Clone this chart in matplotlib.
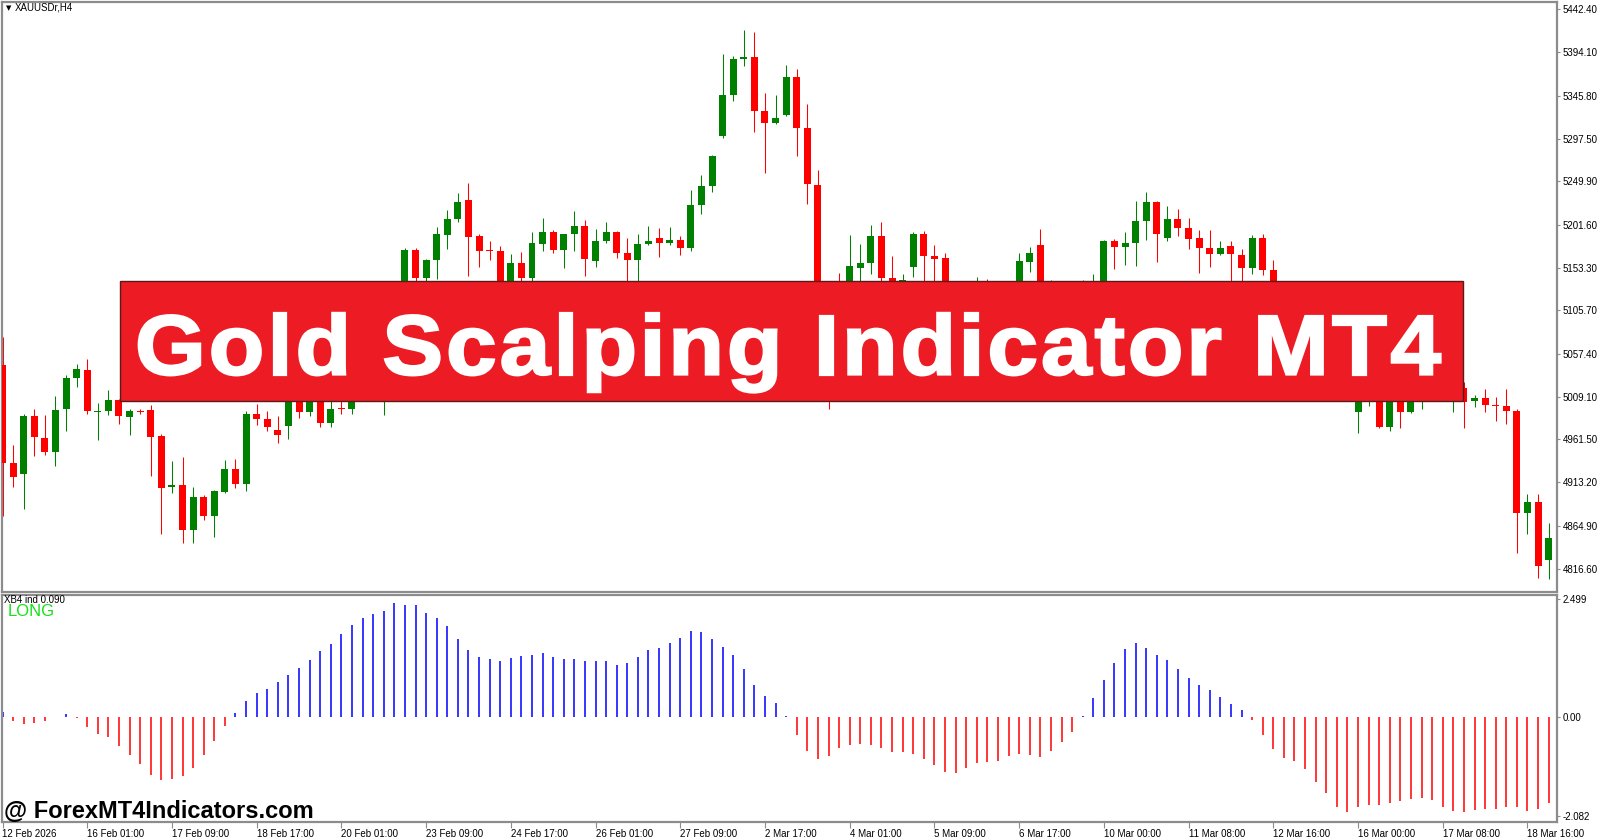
import matplotlib
matplotlib.use("Agg")
import matplotlib.pyplot as plt
from matplotlib.patches import Rectangle, PathPatch
from matplotlib.textpath import TextPath, TextToPath
from matplotlib.font_manager import FontProperties
from matplotlib.transforms import Affine2D

# ---- data ----
opens = [5044.2, 4935.3, 4923.0, 4987.0, 4963.4, 4947.7, 4994.8, 5029.6, 5038.6, 4991.5,
         4992.6, 5004.9, 4985.9, 4993.0, 4993.7, 4965.6, 4908.4, 4910.7, 4860.1, 4897.2,
         4875.9, 4902.8, 4928.6, 4911.8, 4989.2, 4984.7, 4972.4, 4976.0, 5018.0, 4992.0,
         5028.0, 4980.0, 4997.0, 4995.0, 5050.0, 5085.0, 5070.0, 5110.0, 5125.0, 5173.3,
         5141.8, 5162.0, 5190.1, 5208.1, 5229.4, 5189.0, 5172.6, 5172.1, 5128.0, 5158.7,
         5141.8, 5180.0, 5193.5, 5173.3, 5191.2, 5200.2, 5160.9, 5183.4, 5193.5, 5169.9,
         5162.0, 5180.0, 5186.7, 5181.1, 5184.5, 5175.5, 5223.8, 5245.1, 5300.1, 5346.1,
         5386.5, 5388.7, 5328.1, 5314.7, 5323.7, 5366.3, 5309.1, 5246.2, 5125.0, 5125.0,
         5112.0, 5153.1, 5158.7, 5189.0, 5141.8, 5132.0, 5154.2, 5191.2, 5166.5, 5164.3,
         5120.0, 5095.0, 5105.0, 5125.0, 5110.0, 5120.0, 5128.0, 5159.8, 5178.9, 5118.0,
         5130.0, 5120.0, 5128.0, 5134.0, 5135.0, 5183.4, 5176.6, 5181.1, 5205.5, 5226.4,
         5186.7, 5207.3, 5198.3, 5186.7, 5175.9, 5168.4, 5177.4, 5167.7, 5152.7, 5186.4,
         5150.5, 5110.0, 5095.0, 5080.0, 5065.0, 5040.0, 5025.0, 5015.0, 4991.7, 5010.0,
         5015.0, 4975.5, 5010.0, 4992.3, 5005.0, 5012.0, 5018.0, 5006.0, 5018.5, 5003.9,
         5007.3, 4999.8, 4998.7, 4993.4, 4878.7, 4891.7, 4826.5]
highs = [5075.6, 4955.5, 4989.2, 4994.8, 4988.1, 5009.4, 5033.0, 5045.3, 5050.9, 5001.6,
         5016.1, 5006.0, 4994.8, 4994.8, 4999.3, 4967.9, 4937.6, 4942.1, 4908.4, 4899.4,
         4905.0, 4938.7, 4939.8, 4992.6, 5000.4, 4992.6, 4987.0, 5025.0, 5030.0, 5035.0,
         5040.0, 5005.0, 5005.0, 5060.0, 5095.0, 5110.0, 5120.0, 5135.0, 5175.5, 5175.0,
         5163.0, 5199.1, 5218.2, 5237.2, 5248.5, 5191.2, 5183.4, 5177.8, 5168.8, 5171.0,
         5193.5, 5209.2, 5195.7, 5191.5, 5217.0, 5206.9, 5196.8, 5204.7, 5194.6, 5186.7,
         5191.2, 5200.2, 5198.0, 5199.1, 5189.0, 5240.6, 5257.4, 5279.9, 5392.1, 5389.9,
         5419.1, 5416.8, 5348.3, 5346.1, 5379.8, 5375.3, 5336.0, 5263.1, 5132.0, 5147.5,
         5190.1, 5180.0, 5201.3, 5204.7, 5166.5, 5146.3, 5193.5, 5194.6, 5178.9, 5169.9,
         5128.0, 5115.0, 5143.0, 5140.7, 5130.0, 5135.0, 5169.9, 5176.6, 5196.8, 5139.6,
         5138.0, 5135.0, 5140.0, 5146.7, 5184.5, 5185.9, 5193.5, 5227.9, 5237.6, 5227.5,
         5222.3, 5218.9, 5209.2, 5195.4, 5195.4, 5183.0, 5183.0, 5174.1, 5189.8, 5191.2,
         5161.7, 5125.0, 5110.0, 5100.0, 5080.0, 5060.0, 5040.0, 5030.0, 5025.0, 5030.0,
         5025.0, 5020.0, 5018.0, 5015.0, 5020.0, 5025.0, 5030.0, 5022.0, 5025.0, 5011.0,
         5017.4, 5008.4, 5017.4, 4995.0, 4900.3, 4900.3, 4868.1]
lows = [4875.9, 4908.4, 4883.7, 4943.2, 4944.3, 4932.0, 4971.3, 5019.5, 4989.2, 4961.2,
        4988.1, 4979.1, 4966.8, 4989.2, 4920.8, 4855.7, 4901.7, 4845.6, 4845.6, 4871.4,
        4852.3, 4901.7, 4907.3, 4903.9, 4978.0, 4971.3, 4957.8, 4962.0, 4985.0, 4988.0,
        4975.0, 4975.0, 4990.0, 4990.0, 5035.0, 5060.0, 4989.0, 5095.0, 5115.0, 5130.0,
        5128.0, 5140.7, 5174.4, 5204.7, 5144.1, 5154.2, 5162.0, 5120.0, 5118.0, 5137.4,
        5137.4, 5172.1, 5169.9, 5153.1, 5172.1, 5144.1, 5154.2, 5181.1, 5164.3, 5137.4,
        5137.4, 5178.9, 5165.4, 5178.9, 5167.7, 5172.1, 5213.7, 5238.4, 5298.0, 5339.4,
        5378.6, 5304.6, 5259.7, 5313.6, 5322.5, 5278.8, 5224.9, 5110.0, 4995.0, 5095.0,
        5100.0, 5130.0, 5146.3, 5128.0, 5110.0, 5125.0, 5143.0, 5130.0, 5130.0, 5100.0,
        5080.0, 5070.0, 5090.0, 5100.0, 5095.0, 5105.0, 5120.0, 5148.6, 5110.0, 5105.0,
        5110.0, 5100.0, 5115.0, 5125.0, 5130.0, 5152.3, 5156.8, 5155.0, 5184.2, 5159.8,
        5183.0, 5189.0, 5174.1, 5147.8, 5154.2, 5168.0, 5137.4, 5135.0, 5146.0, 5144.9,
        5100.0, 5085.0, 5070.0, 5055.0, 5030.0, 5015.0, 5005.0, 5004.0, 4968.8, 4999.0,
        4973.7, 4970.7, 4974.4, 4990.5, 4995.0, 5005.0, 5006.0, 4992.3, 4973.7, 4997.2,
        4991.6, 4982.2, 4978.2, 4834.6, 4856.1, 4806.8, 4805.2]
closes = [4935.3, 4919.6, 4987.0, 4964.5, 4947.7, 4993.7, 5029.6, 5039.7, 4992.6, 4992.6,
          5004.9, 4987.0, 4992.6, 4992.0, 4964.5, 4907.3, 4910.7, 4860.1, 4897.2, 4875.9,
          4903.9, 4928.6, 4911.8, 4989.2, 4984.7, 4975.7, 4966.8, 5018.0, 4992.0, 5028.0,
          4980.0, 4994.8, 4994.8, 5050.0, 5085.0, 5070.0, 5110.0, 5125.0, 5173.3, 5141.8,
          5162.0, 5191.2, 5208.1, 5227.1, 5187.9, 5172.1, 5172.0, 5128.0, 5158.7, 5141.8,
          5181.1, 5193.5, 5173.3, 5191.2, 5200.2, 5163.2, 5183.4, 5193.5, 5169.9, 5162.0,
          5180.0, 5183.4, 5181.1, 5184.5, 5175.5, 5223.8, 5245.1, 5278.8, 5346.1, 5386.5,
          5388.7, 5328.1, 5314.7, 5320.3, 5366.3, 5309.1, 5247.3, 5125.0, 5120.0, 5110.0,
          5155.3, 5158.7, 5189.0, 5141.8, 5125.0, 5139.6, 5191.2, 5166.5, 5163.2, 5120.0,
          5095.0, 5105.0, 5125.0, 5110.0, 5120.0, 5130.0, 5160.9, 5169.9, 5120.0, 5130.0,
          5120.0, 5128.0, 5135.0, 5138.5, 5183.4, 5176.6, 5181.1, 5205.5, 5226.4, 5190.9,
          5207.3, 5198.3, 5185.9, 5175.9, 5168.4, 5175.2, 5168.4, 5152.7, 5186.4, 5150.5,
          5110.0, 5095.0, 5080.0, 5065.0, 5040.0, 5025.0, 5015.0, 5010.0, 5015.0, 5020.0,
          4975.5, 5010.0, 4992.3, 5008.0, 5012.0, 5018.0, 5012.0, 5015.0, 5003.5, 5007.3,
          4999.8, 4998.3, 4993.1, 4878.7, 4891.7, 4819.7, 4851.1]

xb4 = [0.11, -0.07, -0.14, -0.12, -0.08, 0.02, 0.08, -0.02, -0.19, -0.35,
       -0.42, -0.60, -0.78, -0.97, -1.21, -1.32, -1.29, -1.24, -1.06, -0.78,
       -0.49, -0.17, 0.10, 0.35, 0.51, 0.60, 0.74, 0.90, 1.05, 1.20,
       1.39, 1.54, 1.75, 1.94, 2.10, 2.18, 2.25, 2.42, 2.36, 2.36,
       2.20, 2.10, 1.92, 1.65, 1.41, 1.27, 1.23, 1.19, 1.25, 1.30,
       1.32, 1.35, 1.27, 1.23, 1.23, 1.18, 1.18, 1.18, 1.11, 1.15,
       1.27, 1.41, 1.46, 1.56, 1.68, 1.83, 1.80, 1.66, 1.49, 1.31,
       1.01, 0.68, 0.46, 0.30, 0.03, -0.36, -0.70, -0.88, -0.82, -0.65,
       -0.57, -0.55, -0.57, -0.64, -0.72, -0.73, -0.77, -0.88, -1.01, -1.14,
       -1.16, -1.06, -0.96, -0.94, -0.91, -0.82, -0.77, -0.80, -0.84, -0.71,
       -0.52, -0.30, 0.04, 0.41, 0.78, 1.15, 1.45, 1.56, 1.46, 1.31,
       1.22, 1.03, 0.84, 0.68, 0.57, 0.44, 0.28, 0.15, -0.06, -0.36,
       -0.66, -0.85, -0.92, -1.09, -1.35, -1.58, -1.89, -1.99, -1.89, -1.85,
       -1.85, -1.80, -1.75, -1.71, -1.70, -1.74, -1.89, -1.96, -1.99, -1.94,
       -1.93, -1.92, -1.89, -1.88, -1.96, -1.92, -1.81]

date_labels = ["12 Feb 2026", "16 Feb 01:00", "17 Feb 09:00", "18 Feb 17:00", "20 Feb 01:00",
               "23 Feb 09:00", "24 Feb 17:00", "26 Feb 01:00", "27 Feb 09:00", "2 Mar 17:00",
               "4 Mar 01:00", "5 Mar 09:00", "6 Mar 17:00", "10 Mar 00:00", "11 Mar 08:00",
               "12 Mar 16:00", "16 Mar 00:00", "17 Mar 08:00", "18 Mar 16:00"]
price_ticks = [5442.40, 5394.10, 5345.80, 5297.50, 5249.90, 5201.60, 5153.30,
               5105.70, 5057.40, 5009.10, 4961.50, 4913.20, 4864.90, 4816.60]
ind_ticks = [2.499, 0.0, -2.082]
ind_tick_labels = ["2.499", "0.00", "-2.082"]
title = "Gold Scalping Indicator MT4"

# ---- layout (pixels) ----
W, H = 1600, 839
GREEN, RED, BLUE = "#008000", "#ff0000", "#0000ff"
FRAME = "#8c8c8c"
plt.rcParams["font.family"] = ["Liberation Sans", "DejaVu Sans"]

fig = plt.figure(figsize=(W / 100, H / 100), dpi=100)
fig.patch.set_facecolor("white")

def box(l, t, r, b):
    return [l / W, 1 - b / H, (r - l) / W, (b - t) / H]

ax = fig.add_axes(box(2, 2, 1557, 592))
ax2 = fig.add_axes(box(2, 595, 1557, 822))

step = 10.59
xl = (-0.5 / step, (1557 - 2.5) / step)
n = len(opens)
xs = list(range(n))

# candles
for i in xs:
    o, h, l, c = opens[i], highs[i], lows[i], closes[i]
    col = GREEN if c >= o else RED
    ax.vlines(i, l, h, color=col, lw=0.75, zorder=2)
    lo, hi = min(o, c), max(o, c)
    if hi - lo < 1.6:
        hi = lo + 1.6
    ax.bar(i, hi - lo, bottom=lo, width=0.66, color=col, lw=0, zorder=3)

ax.set_xlim(*xl)
ax.set_ylim(4790.7, 5450.5)
ax.set_xticks([])
ax.yaxis.tick_right()
ax.set_yticks(price_ticks)
ax.set_yticklabels(["%.2f" % v for v in price_ticks])

# indicator histogram
cols = [BLUE if v >= 0 else RED for v in xb4]
ax2.vlines(xs, 0, xb4, colors=cols, lw=1.1)
ax2.set_xlim(*xl)
ax2.set_ylim(-2.20, 2.578)
ax2.yaxis.tick_right()
ax2.set_yticks(ind_ticks)
ax2.set_yticklabels(ind_tick_labels)
ax2.set_xticks(list(range(0, n, 8)))
ax2.set_xticklabels(date_labels, ha="left")

for a in (ax, ax2):
    for s in a.spines.values():
        s.set_color(FRAME)
        s.set_linewidth(1.6)
    a.tick_params(axis="y", length=2, width=0.8, color=FRAME, pad=2, labelsize=7)
    a.tick_params(axis="x", length=4, width=0.8, color=FRAME, pad=1, labelsize=7)

# captions
fig.text(6 / W, 1 - 8 / H, "\u25bc", fontsize=5, va="center", ha="left",
         color="black", family="DejaVu Sans")
fig.text(15 / W, 1 - 8 / H, "XAUUSDr,H4", fontsize=7, va="center")
fig.text(4 / W, 1 - 600 / H, "XB4 ind 0.090", fontsize=7, va="center")
fig.text(8 / W, 1 - 611 / H, "LONG", fontsize=12, color="#14e014", va="center")

# banner
fig.add_artist(Rectangle((120 / W, 1 - 400.5 / H), (1463 - 120) / W, (400.5 - 280.7) / H,
                         transform=fig.transFigure, facecolor="#ed1c24",
                         edgecolor="#5a1a1a", lw=1.0, zorder=10))

# banner title: heavy, slightly widened glyphs (sizes in pixels)
size = 85
fp = FontProperties(family="Liberation Sans", weight="bold", size=size)
ttp = TextToPath()

def text_w(s):
    return ttp.get_text_width_height_descent(s, fp, ismath=False)[0]

sx = 1.07
span = 1306.0
track = (span - sx * text_w(title)) / (len(title) - 1)
base = text_w("||")
x0, y0 = 135.0, H - 374.5
for i, ch in enumerate(title):
    if ch == " ":
        continue
    adv = text_w("|" + title[:i] + "|") - base
    glyph = TextPath((0, 0), ch, size=size, prop=fp)
    tr = Affine2D().scale(sx, 1.0).translate(x0 + sx * adv + i * track, y0)
    fig.add_artist(PathPatch(glyph, transform=tr, facecolor="white",
                             edgecolor="white", lw=1.6, zorder=11))

fig.text(4 / W, 1 - 818 / H, "@ ForexMT4Indicators.com", fontsize=17,
         fontweight="bold", color="black", ha="left", va="baseline", zorder=11)

fig.savefig("out.png", dpi=100, facecolor="white")
